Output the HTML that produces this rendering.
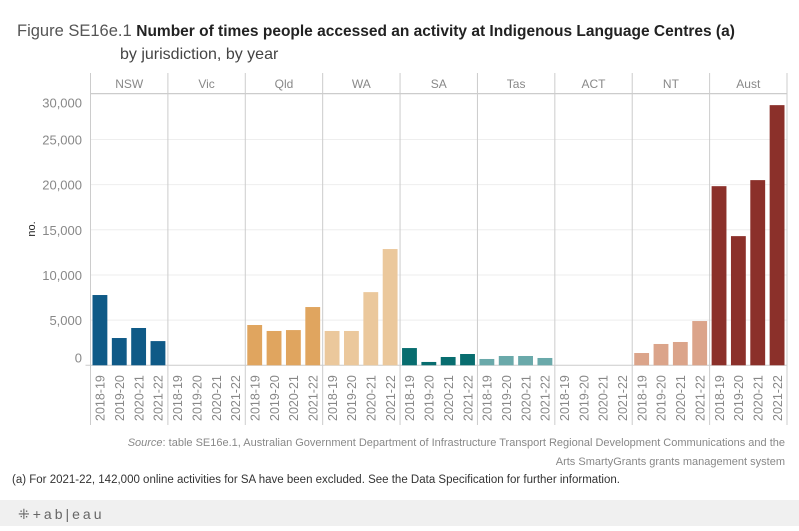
<!DOCTYPE html>
<html><head><meta charset="utf-8"><style>
body{margin:0;background:#fff;font-family:"Liberation Sans",sans-serif;}
svg text{font-family:"Liberation Sans",sans-serif;}
</style></head><body>
<svg id="chart" width="799" height="526" xmlns="http://www.w3.org/2000/svg">
<text x="17" y="36" font-size="16.5" fill="#555">Figure SE16e.1 <tspan fill="#222" font-weight="bold" font-size="15.5">Number of times people accessed an activity at Indigenous Language Centres (a)</tspan></text>
<text x="120" y="59" font-size="16" fill="#444">by jurisdiction, by year</text>
<g id="plot"></g>
<text transform="translate(35,229) rotate(-90)" text-anchor="middle" font-size="11" fill="#222">no.</text>
<text x="785" y="446" text-anchor="end" font-size="11" fill="#888"><tspan font-style="italic">Source</tspan>: table SE16e.1, Australian Government Department of Infrastructure Transport Regional Development Communications and the</text>
<text x="785" y="465" text-anchor="end" font-size="11" fill="#888">Arts SmartyGrants grants management system</text>
<text x="12" y="483" font-size="11.5" fill="#333">(a) For 2021-22, 142,000 online activities for SA have been excluded. See the Data Specification for further information.</text>
<rect x="0" y="500" width="799" height="26" fill="#f0f0f0"/>
<text x="18" y="519" font-size="14" fill="#666" letter-spacing="3">⁜+ab|eau</text>
</svg>
<script>
const jurisdictions=["NSW","Vic","Qld","WA","SA","Tas","ACT","NT","Aust"];
const years=["2018-19","2019-20","2020-21","2021-22"];
const values=[
[7780,3020,4130,2680],
[0,0,0,0],
[4460,3800,3900,6450],
[3800,3800,8100,12870],
[1910,370,920,1250],
[700,1030,1030,810],
[0,0,0,0],
[1360,2360,2580,4900],
[19830,14300,20500,28800]];
const colors=["#0f5a87","#0f5a87","#e0a55f","#ebc89c","#086d6f","#6aa9aa","#6aa9aa","#dba48a","#8b302a"];
const yTicks=[0,5000,10000,15000,20000,25000,30000];
const SVGNS="http://www.w3.org/2000/svg";
const plotG=document.getElementById("plot");
const plotLeft=90.5,plotRight=787,plotTop=93.5,plotBottom=365.3,hdrTop=73;
const pw=(plotRight-plotLeft)/jurisdictions.length;
function yScale(v){return plotBottom-v/30000*(plotBottom-94.3);}
function mk(t,a){const e=document.createElementNS(SVGNS,t);for(const k in a)e.setAttribute(k,a[k]);plotG.appendChild(e);return e;}
yTicks.forEach((t,idx)=>{
 if(t>0){const l=mk("line",{x1:plotLeft,x2:plotRight,y1:yScale(t),y2:yScale(t),stroke:"#eee","stroke-width":1});
 
 }
 let off=5;
 if(idx===0)off=-3;
 if(idx===yTicks.length-1)off=13;
 const tx=mk("text",{x:82,y:yScale(t)+off,"text-anchor":"end","font-size":"13",fill:"#888"});
 tx.textContent=t.toLocaleString("en-US");
 
 
});
const hl=mk("line",{x1:plotLeft,x2:plotRight,y1:plotTop,y2:plotTop,stroke:"#ccc"});


const bl=mk("line",{x1:plotLeft-5,x2:plotRight,y1:plotBottom,y2:plotBottom,stroke:"#ccc"});


for(let i=0;i<=jurisdictions.length;i++){
 const x=plotLeft+i*pw;
 const l=mk("line",{x1:x,x2:x,y1:hdrTop,y2:425,stroke:"#ccc"});
 
 
}
jurisdictions.forEach((j,i)=>{
 const px=plotLeft+i*pw;
 const h=mk("text",{x:px+pw/2,y:88,"text-anchor":"middle","font-size":"12",fill:"#888"});
 h.textContent=j;
 
 
 years.forEach((yr,k)=>{
  const v=values[i][k];const bw=pw/4;
  const bx=px+k*bw+2;
  const r=mk("rect",{x:bx,y:yScale(v),width:bw-4.5,height:Math.max(0,plotBottom-yScale(v)),fill:colors[i]});
  
  
  const cx=px+k*bw+bw/2;
  const t=mk("text",{transform:"translate("+(cx+4.5)+",421) rotate(-90)","font-size":"12.5",fill:"#888"});
  t.textContent=yr;
  
  
 });
});
</script>
</body></html>
